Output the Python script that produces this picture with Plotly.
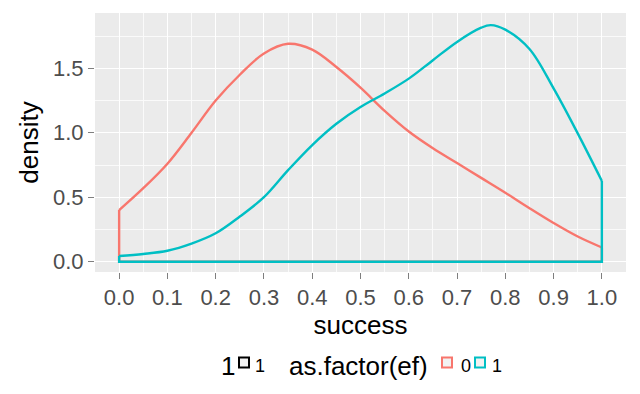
import plotly.graph_objects as go

# ---- data ----
x0 = [0.0, 0.05, 0.1, 0.15, 0.2, 0.25, 0.3, 0.35, 0.4, 0.45, 0.5, 0.55, 0.6, 0.65, 0.7, 0.75, 0.8, 0.85, 0.9, 0.95, 1.0]
dens0 = [0.40, 0.57, 0.76, 1.00, 1.25, 1.45, 1.615, 1.69, 1.645, 1.51, 1.35, 1.17, 1.01, 0.88, 0.765, 0.65, 0.535, 0.415, 0.30, 0.195, 0.11]
x1 = [0.0, 0.05, 0.1, 0.15, 0.2, 0.25, 0.3, 0.35, 0.4, 0.45, 0.5, 0.55, 0.6, 0.65, 0.7, 0.75, 0.77, 0.8, 0.85, 0.9, 0.95, 1.0]
dens1 = [0.044, 0.06, 0.085, 0.14, 0.22, 0.35, 0.50, 0.71, 0.905, 1.07, 1.20, 1.305, 1.42, 1.563, 1.705, 1.815, 1.835, 1.80, 1.65, 1.344, 0.995, 0.626]
groups = ["0", "1"]
colors = ["#F8766D", "#00BFC4"]
x_ticks = [0.0, 0.1, 0.2, 0.3, 0.4, 0.5, 0.6, 0.7, 0.8, 0.9, 1.0]
y_ticks = [0.0, 0.5, 1.0, 1.5]

W, H = 640, 394
ML, MR, MT, MB = 95, 14, 13, 122
PW, PH = W - ML - MR, H - MT - MB

fig = go.Figure()
for xs, ys, g, c in [(x0, dens0, groups[0], colors[0]), (x1, dens1, groups[1], colors[1])]:
    # density curve
    fig.add_trace(go.Scatter(x=xs, y=ys, mode="lines",
                             line=dict(color=c, width=2.4, shape="spline", smoothing=1.0),
                             showlegend=False, hoverinfo="skip", name=g))
    # closing edges along the baseline (like geom_density outline)
    fig.add_trace(go.Scatter(x=[xs[0], xs[0], xs[-1], xs[-1]], y=[ys[0], 0, 0, ys[-1]], mode="lines",
                             line=dict(color=c, width=2.4), showlegend=False, hoverinfo="skip", name=g))

font = "Liberation Sans, Arial, sans-serif"

def px2x(p):
    return (p - ML) / PW

def py2y(p):
    return (H - MB - p) / PH

annotations = []
shapes = []
leg_y = 366
annotations.append(dict(text="1", x=px2x(219), y=py2y(leg_y), xref="paper", yref="paper",
                        xanchor="left", yanchor="middle", showarrow=False, font=dict(size=26, color="black")))
annotations.append(dict(text="as.factor(ef)", x=px2x(287), y=py2y(leg_y), xref="paper", yref="paper",
                        xanchor="left", yanchor="middle", showarrow=False, font=dict(size=26, color="black")))
keys = [("1", "black", 238, 253), (groups[0], colors[0], 441, 459), (groups[1], colors[1], 474, 490)]
for lab, col, kx, lx in keys:
    shapes.append(dict(type="rect", xref="paper", yref="paper",
                       x0=px2x(kx + 1), x1=px2x(kx + 11), y0=py2y(367.5), y1=py2y(357.5),
                       fillcolor="#F2F2F2", line=dict(color=col, width=2)))
    annotations.append(dict(text=lab, x=px2x(lx), y=py2y(leg_y), xref="paper", yref="paper",
                            xanchor="left", yanchor="middle", showarrow=False, font=dict(size=18, color="black")))

fig.update_layout(
    width=W, height=H,
    margin=dict(l=ML, r=MR, t=MT, b=MB),
    paper_bgcolor="white", plot_bgcolor="#EBEBEB",
    font=dict(family=font, color="black"),
    showlegend=False,
    xaxis=dict(range=[-0.05, 1.05], tickvals=x_ticks, ticktext=[f"{v:.1f}" for v in x_ticks],
               showgrid=True, gridcolor="white", gridwidth=1.2, zeroline=False, automargin=False,
               minor=dict(tickvals=[0.05 + 0.1 * i for i in range(10)], showgrid=True, gridcolor="#FAFAFA", gridwidth=0.7),
               ticks="outside", ticklen=6, tickcolor="#7F7F7F", tickwidth=1,
               tickfont=dict(size=22, color="#4D4D4D"),
               title=dict(text="success", font=dict(size=26), standoff=4)),
    yaxis=dict(range=[-0.08, 1.929], tickvals=y_ticks, ticktext=[f"{v:.1f}" for v in y_ticks],
               showgrid=True, gridcolor="white", gridwidth=1.2, zeroline=False, automargin=False,
               minor=dict(tickvals=[0.25, 0.75, 1.25, 1.75], showgrid=True, gridcolor="#FAFAFA", gridwidth=0.7),
               ticks="outside", ticklen=6, tickcolor="#7F7F7F", tickwidth=1,
               tickfont=dict(size=22, color="#4D4D4D"),
               title=dict(text="density", font=dict(size=26), standoff=6)),
    annotations=annotations,
    shapes=shapes,
)

fig.write_html("out.html", config={"displayModeBar": False},
               post_script="document.body.style.margin='0';document.body.style.padding='0';")
